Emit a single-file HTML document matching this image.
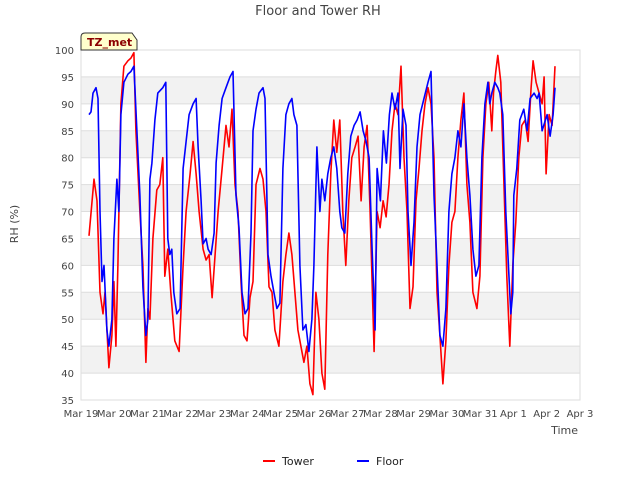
<!DOCTYPE html>
<html><head><meta charset="utf-8"><style>
body{margin:0;background:#fff;}
svg text{font-family:"DejaVu Sans","Liberation Sans",sans-serif;}
</style></head><body>
<svg id="chart" width="640" height="480" xmlns="http://www.w3.org/2000/svg">
<text x="318" y="15" text-anchor="middle" font-size="13" fill="#444">Floor and Tower RH</text>
<g id="bands"></g><g id="grid"></g>
<rect x="81" y="50" width="499" height="350" fill="none" stroke="#ddd"/>
<g id="yticks"></g><g id="xticks"></g>
<g id="series"></g>
<text transform="translate(18,224) rotate(-90)" text-anchor="middle" font-size="11" fill="#444">RH (%)</text>
<text x="578" y="434" text-anchor="end" font-size="11" fill="#444">Time</text>
<g>
<path d="M81,50 L81,37 Q81,33 85,33 L132,33 L137,40 L137,50 Z" fill="#ffffcc" stroke="#333" stroke-width="1"/>
<text x="87" y="46" font-size="11" font-weight="bold" fill="#8b0000">TZ_met</text>
</g>
<g>
<g><rect x="263" y="460" width="12" height="2" fill="#f00"/><text x="282" y="465" font-size="11" fill="#222">Tower</text></g>
<g><rect x="357" y="460" width="12" height="2" fill="#00f"/><text x="376" y="465" font-size="11" fill="#222">Floor</text></g>
</g>
</svg>
<script>
const yTicks=[35,40,45,50,55,60,65,70,75,80,85,90,95,100];
const xTickLabels=["Mar 19","Mar 20","Mar 21","Mar 22","Mar 23","Mar 24","Mar 25","Mar 26","Mar 27","Mar 28","Mar 29","Mar 30","Mar 31","Apr 1","Apr 2","Apr 3"];
const towerT=[0.24,0.39,0.48,0.57,0.66,0.72,0.84,0.93,0.99,1.05,1.11,1.2,1.29,1.41,1.5,1.59,1.65,1.77,1.86,1.95,2.01,2.07,2.16,2.28,2.37,2.46,2.52,2.61,2.7,2.82,2.95,3.07,3.16,3.28,3.37,3.46,3.55,3.67,3.76,3.85,3.94,4.03,4.12,4.24,4.36,4.45,4.54,4.63,4.72,4.81,4.9,4.99,5.08,5.17,5.26,5.38,5.47,5.56,5.65,5.74,5.83,5.95,6.07,6.16,6.25,6.34,6.43,6.52,6.61,6.7,6.79,6.88,6.97,7.06,7.15,7.24,7.33,7.42,7.51,7.6,7.69,7.78,7.87,7.96,8.05,8.14,8.24,8.33,8.42,8.51,8.6,8.69,8.81,8.9,8.99,9.08,9.17,9.26,9.35,9.44,9.53,9.62,9.71,9.8,9.89,9.98,10.07,10.16,10.25,10.34,10.43,10.52,10.61,10.7,10.79,10.88,10.97,11.06,11.15,11.24,11.33,11.42,11.51,11.6,11.69,11.78,11.9,11.99,12.08,12.17,12.26,12.35,12.4,12.47,12.53,12.62,12.71,12.8,12.89,12.98,13.07,13.16,13.25,13.35,13.44,13.53,13.59,13.68,13.77,13.86,13.92,13.98,14.07,14.16,14.25];
const towerV=[65.5,76,72,55,51,55,41,47,57,45,60,90,97,98,98.5,99.5,85,70,60,42,52,50,65,74,75,80,58,63,55,46,44,60,70,77,83,77,70,63,61,62,54,62,70,78,86,82,89,75,70,57,47,46,54,57,75,78,76,70,56,55,48,45,57,62,66,62,55,48,45,42,45,38,36,55,50,40,37,62,77,87,81,87,70,60,72,80,82,84,72,82,86,70,44,70,67,72,69,75,85,90,88,97,80,70,52,56,72,78,85,90,93,90,80,55,47,38,46,60,68,70,80,87,92,75,68,55,52,58,80,90,94,85,92,96,99,94,76,58,45,60,68,80,86,87,83,93,98,94,92,90,95,77,88,86,97];
const floorT=[0.24,0.3,0.36,0.45,0.51,0.57,0.63,0.69,0.78,0.84,0.93,0.99,1.08,1.14,1.2,1.29,1.41,1.5,1.59,1.68,1.77,1.86,1.95,2.01,2.07,2.13,2.22,2.31,2.46,2.55,2.61,2.67,2.73,2.79,2.88,2.98,3.07,3.16,3.25,3.37,3.46,3.52,3.61,3.67,3.76,3.82,3.91,4.0,4.06,4.15,4.24,4.36,4.48,4.57,4.66,4.75,4.84,4.93,5.02,5.11,5.17,5.26,5.35,5.47,5.53,5.62,5.71,5.8,5.89,5.98,6.07,6.16,6.25,6.34,6.4,6.49,6.58,6.67,6.76,6.85,6.94,7.0,7.09,7.18,7.24,7.33,7.42,7.51,7.6,7.69,7.78,7.84,7.93,8.02,8.11,8.21,8.3,8.39,8.48,8.57,8.66,8.75,8.84,8.9,9.0,9.09,9.18,9.27,9.35,9.44,9.53,9.59,9.68,9.77,9.83,9.92,10.01,10.1,10.19,10.31,10.43,10.52,10.61,10.7,10.79,10.88,10.97,11.06,11.15,11.24,11.33,11.42,11.51,11.6,11.69,11.78,11.87,11.96,12.05,12.14,12.23,12.29,12.35,12.44,12.53,12.59,12.68,12.77,12.92,12.98,13.01,13.1,13.19,13.31,13.41,13.5,13.62,13.71,13.77,13.86,14.01,14.1,14.19,14.25];
const floorV=[88,88.5,92,93,91,70,57,60,48,45,50,65,76,70,88,94,95.5,96,97,85,73,56,47,50,76,79,87,92,93,94,65,62,63,55,51,52,78,83,88,90,91,82,72,64,65,63,62,66,79,86,91,93,95,96,73,67,55,51,52,66,85,89,92,93,91,62,58,55,52,53,78,88,90,91,88,86,60,48,49,44,50,60,82,70,76,72,77,80,82,78,70,67,66,77,84,86,87,88.5,85,83,80,63,48,78,72,85,79,88,92,89,92,78,89,86,70,60,68,82,88,91,94,96,73,60,47,45,52,70,77,80,85,82,90,80,73,63,58,60,80,90,94,90,92,94,93,92,88,70,51,55,73,78,87,89,85,91,92,91,92,85,88,84,88,93];

const NS='http://www.w3.org/2000/svg';
const X0=81,X1=580,Y0=400,Y1=50,DAYS=15;
function xs(d){return X0+(d/DAYS)*(X1-X0);}
function ys(v){return Y0-(v-35)/65*(Y0-Y1);}
function mk(tag,attrs,parent){const e=document.createElementNS(NS,tag);for(const k in attrs)e.setAttribute(k,attrs[k]);parent.appendChild(e);return e;}
const bands=document.getElementById('bands'),grid=document.getElementById('grid'),yt=document.getElementById('yticks'),xt=document.getElementById('xticks'),ser=document.getElementById('series');
for(let i=0;i<yTicks.length-1;i++){
  if(yTicks[i]%10===0&&yTicks[i]>=40&&yTicks[i]<=90){
    const r=mk('rect',{x:X0,y:ys(yTicks[i]+5),width:X1-X0,height:ys(yTicks[i])-ys(yTicks[i]+5),fill:'#f2f2f2'},bands);
    
    
  }
}
yTicks.forEach(v=>{
  const l=mk('line',{x1:X0,x2:X1,y1:ys(v),y2:ys(v),stroke:'#ddd'},grid);
  
  
  const t=mk('text',{x:X0-7,y:ys(v)+4,'text-anchor':'end','font-size':'10',fill:'#444'},yt);
  t.textContent=v;
  
  
});
xTickLabels.forEach((s,i)=>{
  const t=mk('text',{x:xs(i),y:417,'text-anchor':'middle','font-size':'10',fill:'#444'},xt);
  t.textContent=s;
  
  
});
function line(T,V,color,name){
  const d=T.map((t,i)=>(i?'L':'M')+xs(t).toFixed(1)+','+ys(V[i]).toFixed(1)).join('');
  const p=mk('path',{d:d,fill:'none',stroke:color,'stroke-width':'1.6','stroke-linejoin':'round'},ser);
  
  
}
line(towerT,towerV,'#f00','tower-line');
line(floorT,floorV,'#00f','floor-line');
</script>
</body></html>
